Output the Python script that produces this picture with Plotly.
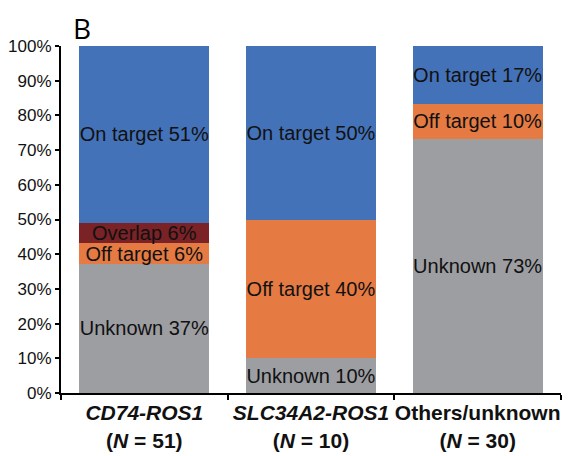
import plotly.graph_objects as go

categories = ["<b><i>CD74-ROS1</i></b><br><b>(<i>N</i> = 51)</b>",
              "<b><i>SLC34A2-ROS1</i></b><br><b>(<i>N</i> = 10)</b>",
              "<b>Others/unknown</b><br><b>(<i>N</i> = 30)</b>"]

unknown = [37.25, 10.0, 73.33]
off_target = [5.88, 40.0, 10.0]
overlap = [5.88, 0.0, 0.0]
on_target = [51.0, 50.0, 16.67]

series = [
    ("Unknown", unknown, "#9d9ea2"),
    ("Off target", off_target, "#e57a43"),
    ("Overlap", overlap, "#7a2226"),
    ("On target", on_target, "#4472b8"),
]

fig = go.Figure()
for name, vals, color in series:
    texts = [f"{name} {v:.0f}%" if v > 0 else "" for v in vals]
    fig.add_trace(go.Bar(
        x=categories, y=vals, name=name, marker_color=color,
        marker_line_width=0, text=texts, textposition="inside",
        insidetextanchor="middle", textangle=0,
        textfont=dict(size=20, color="#111111", family="Liberation Sans, Arial"),
        hoverinfo="skip",
    ))

# page body has an 8px margin, so the figure is a bit smaller than the window
fig.update_layout(
    barmode="stack", bargap=0.22, showlegend=False,
    width=570, height=448,
    margin=dict(l=53, r=17, t=38, b=63),
    plot_bgcolor="white", paper_bgcolor="white",
    font=dict(family="Liberation Sans, Arial", size=18, color="#111111"),
    uniformtext=dict(minsize=20, mode="show"),
)
fig.update_yaxes(range=[0, 100], dtick=10, ticksuffix="%", showgrid=False,
                 showline=True, linecolor="black", linewidth=2,
                 ticks="outside", ticklen=4, tickwidth=1.5, tickcolor="black",
                 zeroline=False, automargin=False,
                 tickfont=dict(size=17))
fig.update_xaxes(showline=True, linecolor="black", linewidth=2,
                 ticks="outside", tickson="boundaries", ticklen=5,
                 tickwidth=1.5, tickcolor="black", showgrid=False,
                 automargin=False, tickangle=0, tickfont=dict(size=21))

fig.add_annotation(text="B", xref="paper", yref="paper", x=0.02, y=1.0,
                   xanchor="left", yanchor="bottom", showarrow=False, yshift=-3,
                   font=dict(size=28, family="Open Sans, DejaVu Sans", color="black"))

fig.write_html("out.html")
